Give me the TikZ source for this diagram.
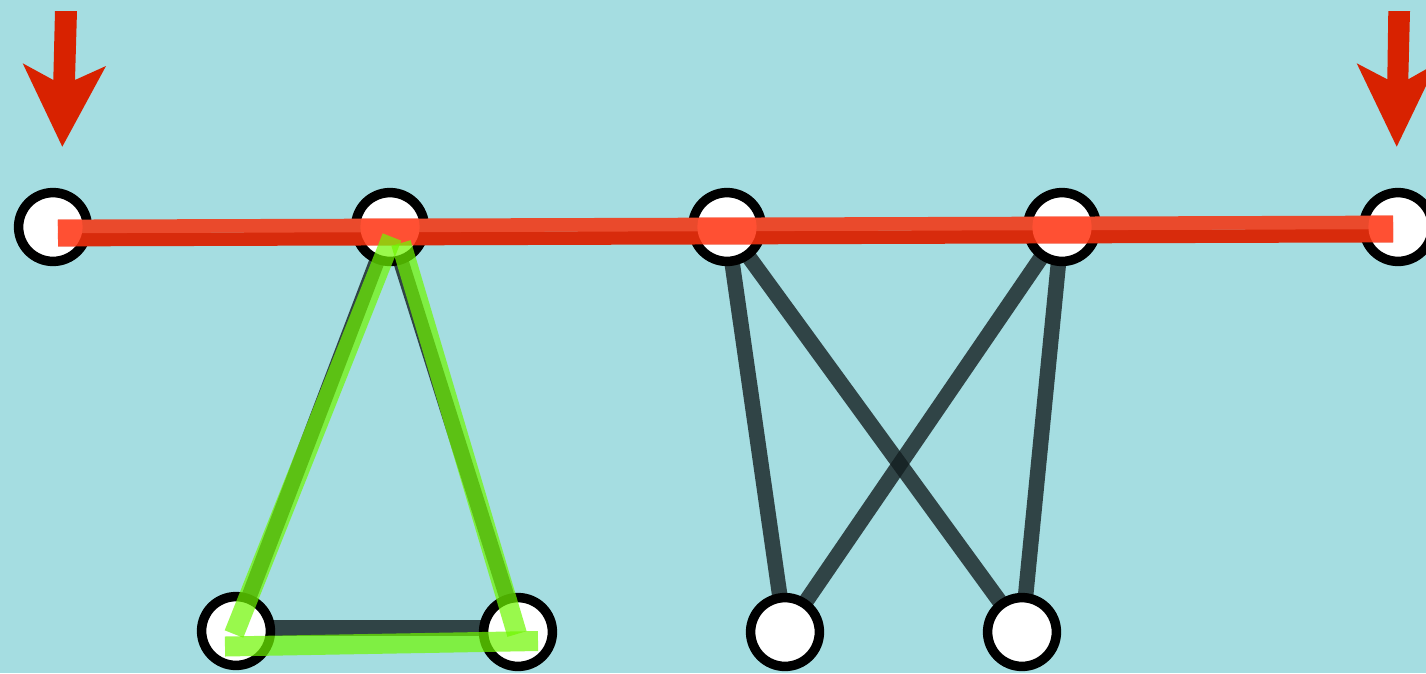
\documentclass[tikz,border=0pt]{standalone}
\usetikzlibrary{calc}
\pgfdeclarelayer{back}
\pgfdeclarelayer{edges}
\pgfsetlayers{back,edges,main}
\definecolor{bgcyan}{RGB}{165,221,225}
\definecolor{reddark}{RGB}{216,43,12}
\definecolor{redlight}{RGB}{234,74,44}
\definecolor{redwhite}{RGB}{255,80,51}
\definecolor{arrowred}{RGB}{216,34,0}
\definecolor{greenhl}{RGB}{111,247,0}
\definecolor{edgedark}{RGB}{19,30,32}
\begin{document}
\begin{tikzpicture}[x=1pt,y=-1pt,
  vertex/.style={circle,draw=black,fill=white,line width=9.5pt,minimum size=68.8pt,inner sep=0pt,outer sep=0pt},
  darkedge/.style={draw=edgedark,draw opacity=0.8,line width=15.5pt,line cap=butt},
  greenpath/.style={draw=greenhl,draw opacity=0.7,line width=20pt,line cap=butt},
  redband/.style={line width=13.6pt,line cap=butt},
  bigarrow/.style={fill=arrowred}]
\useasboundingbox (0,0) rectangle (1426,673);
\begin{pgfonlayer}{back}
  \fill[bgcyan] (0,0) rectangle (1426,673);
\end{pgfonlayer}
\begin{scope}
\clip (0,0) rectangle (1426,673);
% vertices
\node[vertex] (A) at (53,227) {};
\node[vertex] (B) at (390,227) {};
\node[vertex] (C) at (727,227) {};
\node[vertex] (D) at (1062,227) {};
\node[vertex] (E) at (1398,227) {};
\node[vertex] (F) at (236,631) {};
\node[vertex] (G) at (518,632) {};
\node[vertex] (H) at (785,632) {};
\node[vertex] (I) at (1022,632) {};
% dark edges behind the vertices
\begin{pgfonlayer}{edges}
  \draw[darkedge] (C.center) -- (H.center);
  \draw[darkedge] (C.center) -- (I.center);
  \draw[darkedge] (D.center) -- (H.center);
  \draw[darkedge] (D.center) -- (I.center);
  \draw[darkedge] (B.center) -- (F.center);
  \draw[darkedge] (B.center) -- (G.center);
  \draw[darkedge] ($(F.center)+(0,-3)$) -- ($(G.center)+(0,-4)$);
\end{pgfonlayer}
% red path
\coordinate (redL) at (58,233);
\coordinate (redR) at (1393,229);
\draw[redband,reddark] ($(redL)+(0,6.6)$) -- ($(redR)+(0,6.6)$);
\draw[redband,redlight] ($(redL)+(0,-6.6)$) -- ($(redR)+(0,-6.6)$);
\begin{scope}
  \clip (A) circle (29.6pt) (B) circle (29.6pt) (C) circle (29.6pt) (D) circle (29.6pt) (E) circle (29.6pt);
  \draw[line width=26.8pt,line cap=butt,redwhite] (redL) -- (redR);
\end{scope}
% green triangle
\coordinate (gBl) at ($(B)+(2,10)$);
\coordinate (gFt) at ($(F)+(-2,3)$);
\coordinate (gBr) at ($(B)+(11,16)$);
\coordinate (gGt) at ($(G)+(-1,2)$);
\coordinate (gFb) at ($(F)+(-11,15.5)$);
\coordinate (gGb) at ($(G)+(20,9)$);
\draw[greenpath] (gBl) -- (gFt);
\draw[greenpath] (gBr) -- (gGt);
\draw[greenpath] (gFb) -- (gGb);
% arrows
\fill[bigarrow] (55,11) -- (77,11) -- (75,80) -- (106,66) -- (62.3,146.7) -- (22.7,63.3) -- (53.3,80) -- cycle;
\fill[bigarrow] (1388.3,11) -- (1410,11) -- (1408.3,79.3) -- (1437,63) -- (1396.7,146.7) -- (1356.7,63.3) -- (1387.3,79.3) -- cycle;
\end{scope}
\end{tikzpicture}
\end{document}
